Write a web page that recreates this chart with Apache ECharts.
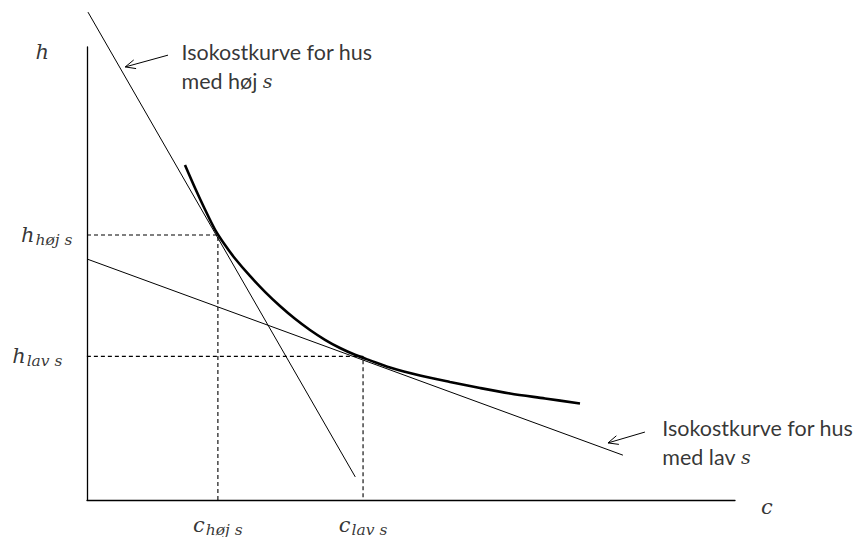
<!DOCTYPE html>
<html>
<head>
<meta charset="utf-8">
<script src="https://cdn.jsdelivr.net/npm/echarts@6/dist/echarts.min.js"></script>
<style>
html,body{margin:0;padding:0;background:#fff;}
#chart{width:859px;height:537px;}
</style>
</head>
<body>
<div id="chart"></div>
<script>
// ---- data (in chart units: c on x, h on y) ----
const steepLine = [[0.15, 107.7], [41.4, 5.1]];   // isocost, høj s
const flatLine  = [[0, 53.2], [82.7, 9.9]];       // isocost, lav s
const curveC = [15.12, 16.67, 18.21, 19.75, 21.30, 22.84, 25.15, 27.47, 29.78, 32.10, 34.41, 36.73, 39.04, 41.36, 43.67, 46.76, 51.39, 56.02, 60.65, 65.28, 70.68, 76.08];
const curveH = [73.95, 68.87, 64.13, 59.71, 56.29, 53.31, 49.45, 45.96, 42.83, 40.00, 37.53, 35.36, 33.55, 32.05, 30.82, 29.25, 27.48, 26.05, 24.72, 23.51, 22.41, 21.30];
const cHoj = 20.2, hHoj = 58.5;
const cLav = 42.6, hLav = 31.7;
const hLavTickStart = -1.1;
const axisLabelH = [-6.9, 98.9];
const axisLabelC = [104.9, -1.5];
const noteHoj = [14.5, 95.6];
const noteLav = [88.7, 12.6];
const arrows = [[12.5, 98.2, 5.9, 95.6], [86.1, 15.0, 80.4, 12.6]];

const curve = curveC.map((c, i) => [c, curveH[i]]);
const dashHoj = [[0, hHoj], [cHoj, hHoj], [cHoj, 0]];
const dashLav = [[hLavTickStart, hLav], [cLav, hLav], [cLav, 0]];

const mathFont = 'DejaVu Serif';
const textFont = 'Lato';
const mathRich = {
  m: {fontFamily: mathFont, fontStyle: 'italic', fontSize: 21, color: '#000'},
  s: {fontFamily: mathFont, fontStyle: 'italic', fontSize: 15.5, color: '#000', padding: [10, 0, 0, 1]}
};
const noteRich = {
  t: {fontFamily: textFont, fontSize: 21.5, color: '#000', lineHeight: 29},
  i: {fontFamily: mathFont, fontStyle: 'italic', fontSize: 19, color: '#000', lineHeight: 29}
};

function lbl(pos, position, formatter, distance, rich) {
  return {value: pos, label: {show: true, position: position, distance: distance, formatter: formatter, rich: rich}};
}

const labelData = [
  lbl(axisLabelH, 'inside', '{m|h}', 0, mathRich),
  lbl(axisLabelC, 'inside', '{m|c}', 0, mathRich),
  lbl([0, hHoj], 'left', '{m|h}{s|høj s}', 14, mathRich),
  lbl([0, hLav], 'left', '{m|h}{s|lav s}', 24, mathRich),
  lbl([cHoj, 0], 'bottom', '{m|c}{s|høj s}', 11, mathRich),
  lbl([cLav, 0], 'bottom', '{m|c}{s|lav s}', 11, mathRich),
  lbl(noteHoj, 'right', '{t|Isokostkurve for hus}\n{t|med høj }{i|s}', 0, noteRich),
  lbl(noteLav, 'right', '{t|Isokostkurve for hus}\n{t|med lav }{i|s}', 0, noteRich)
];

const chart = echarts.init(document.getElementById('chart'), null, {renderer: 'svg'});
const thin = {color: '#000', width: 1};
chart.setOption({
  animation: false,
  backgroundColor: '#fff',
  grid: {left: 87, top: 47, right: 124, bottom: 37, containLabel: false},
  xAxis: {type: 'value', min: 0, max: 100, axisLine: {show: true, onZero: true, lineStyle: {color: '#000', width: 1.3}},
          axisTick: {show: false}, axisLabel: {show: false}, splitLine: {show: false}},
  yAxis: {type: 'value', min: 0, max: 100, axisLine: {show: true, onZero: true, lineStyle: {color: '#000', width: 1.3}},
          axisTick: {show: false}, axisLabel: {show: false}, splitLine: {show: false}},
  series: [
    {type: 'line', data: dashHoj, symbol: 'none', clip: false, silent: true,
     lineStyle: {color: '#000', width: 1.1, type: [4, 3]}},
    {type: 'line', data: dashLav, symbol: 'none', clip: false, silent: true,
     lineStyle: {color: '#000', width: 1.1, type: [4, 3]}},
    {type: 'line', data: steepLine, symbol: 'none', clip: false, silent: true, lineStyle: thin},
    {type: 'line', data: flatLine, symbol: 'none', clip: false, silent: true, lineStyle: thin},
    {type: 'line', data: curve, symbol: 'none', clip: false, silent: true, smooth: 0.3,
     lineStyle: {color: '#000', width: 2.6}},
    {type: 'custom', data: arrows, clip: false, silent: true,
     renderItem: function (params, api) {
       const a = api.coord([api.value(0), api.value(1)]);
       const b = api.coord([api.value(2), api.value(3)]);
       const ang = Math.atan2(a[1] - b[1], a[0] - b[0]);
       const L = 11, da = 0.42;
       const p1 = [b[0] + L * Math.cos(ang + da), b[1] + L * Math.sin(ang + da)];
       const p2 = [b[0] + L * Math.cos(ang - da), b[1] + L * Math.sin(ang - da)];
       return {type: 'group', children: [
         {type: 'line', shape: {x1: a[0], y1: a[1], x2: b[0], y2: b[1]}, style: {stroke: '#000', lineWidth: 1}},
         {type: 'polyline', shape: {points: [p1, b, p2]}, style: {stroke: '#000', lineWidth: 1, fill: null}}
       ]};
     }},
    {type: 'scatter', data: labelData, symbolSize: 1, clip: false, silent: true,
     itemStyle: {color: 'rgba(0,0,0,0)'}, labelLayout: {hideOverlap: false}}
  ]
});
</script>
</body>
</html>
